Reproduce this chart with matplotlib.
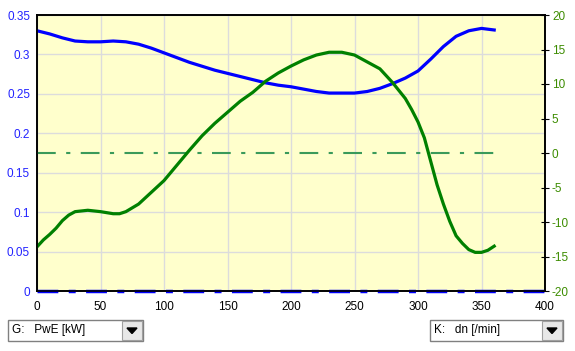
import matplotlib.pyplot as plt
from matplotlib.patches import Rectangle, Polygon

plt.rcParams['font.family'] = ['Liberation Sans', 'DejaVu Sans']
plt.rcParams['axes.unicode_minus'] = False

# blue curve, left axis (PwE)
x_pwe = [0, 10, 20, 30, 40, 50, 60, 70, 80, 90, 100, 110, 120, 130, 140, 150, 160, 170, 180,
         190, 200, 210, 220, 230, 240, 250, 260, 270, 280, 290, 300, 310, 320, 330, 340, 350, 360]
pwe = [0.330, 0.326, 0.321, 0.317, 0.316, 0.316, 0.317, 0.316, 0.313, 0.308, 0.302, 0.296,
       0.290, 0.285, 0.280, 0.276, 0.272, 0.268, 0.264, 0.261, 0.259, 0.256, 0.253, 0.251,
       0.251, 0.251, 0.253, 0.257, 0.263, 0.270, 0.279, 0.294, 0.310, 0.323, 0.330, 0.333, 0.331]

# green curve, right axis (dn)
x_dn = [0, 5, 10, 15, 20, 25, 30, 40, 50, 60, 65, 70, 80, 90, 100, 110, 120, 130, 140, 150,
        160, 170, 180, 190, 200, 210, 220, 230, 240, 250, 260, 270, 280, 290, 295, 300, 305,
        310, 315, 320, 325, 330, 335, 340, 345, 350, 355, 360]
dn = [-13.6, -12.6, -11.8, -10.9, -9.8, -9.0, -8.5, -8.3, -8.5, -8.8, -8.8, -8.5, -7.4, -5.7,
      -4.0, -1.8, 0.4, 2.5, 4.3, 5.9, 7.5, 8.8, 10.4, 11.6, 12.6, 13.5, 14.2, 14.6, 14.6, 14.2,
      13.2, 12.2, 10.2, 7.9, 6.3, 4.5, 2.2, -1.2, -4.6, -7.4, -9.9, -12.0, -13.1, -14.0, -14.4,
      -14.4, -14.1, -13.5]

left_ticks = [0, 0.05, 0.1, 0.15, 0.2, 0.25, 0.3, 0.35]
left_labels = ["0", "0.05", "0.1", "0.15", "0.2", "0.25", "0.3", "0.35"]
right_ticks = [-20, -15, -10, -5, 0, 5, 10, 15, 20]
x_ticks = [0, 50, 100, 150, 200, 250, 300, 350, 400]

blue = "#0000ff"
green = "#008000"

fig = plt.figure(figsize=(5.75, 3.51), dpi=100)
ax = fig.add_axes([37/575, 1 - 291/351, 508/575, 276/351])
ax.set_facecolor("#ffffcc")
ax.set_xlim(0, 400)
ax.set_ylim(0, 0.35)
ax.set_xticks(x_ticks)
ax.set_yticks(left_ticks)
ax.set_yticklabels(left_labels)
ax.grid(True, color="#dcdcdc", lw=1)
ax.set_axisbelow(True)
ax.tick_params(axis="y", length=0, labelsize=8.5, labelcolor="#2222ff", pad=5)
ax.tick_params(axis="x", length=0, labelsize=8.5, pad=7)

ax.plot([0, 400], [0, 0], color=blue, lw=2.5, ls=(0, (6, 3, 2, 3)), clip_on=False, zorder=3)
ax.plot(x_pwe, pwe, color=blue, lw=2.3, zorder=4)

ax2 = ax.twinx()
ax2.set_ylim(-20, 20)
ax2.set_yticks(right_ticks)
ax2.tick_params(axis="y", direction="inout", length=6, labelsize=8.5, labelcolor="#3c8c00", pad=2)
ax2.plot([0, 360], [0, 0], color="#3a9a5a", lw=1.5, ls=(0, (9, 5, 2, 5)))
ax2.plot(x_dn, dn, color=green, lw=2.3)

for a in (ax, ax2):
    for s in a.spines.values():
        s.set_linewidth(1.2)

# dropdown boxes under the chart
def combo(x0, x1, label):
    y0, y1 = 10/351, 31/351
    fig.patches.append(Rectangle((x0/575, y0), (x1 - x0)/575, y1 - y0, transform=fig.transFigure,
                                 facecolor="white", edgecolor="#808080", lw=1))
    bx = x1 - 21
    fig.patches.append(Rectangle((bx/575, y0 + 1/351), 20/575, y1 - y0 - 2/351, transform=fig.transFigure,
                                 facecolor="#e8e8e8", edgecolor="#a0a0a0", lw=0.8))
    cx, cy = bx + 10, 20.5
    fig.patches.append(Polygon([((cx - 5)/575, (cy + 2.5)/351), ((cx + 5)/575, (cy + 2.5)/351),
                                (cx/575, (cy - 3)/351)], transform=fig.transFigure, color="black"))
    fig.text((x0 + 4)/575, 20.5/351, label, fontsize=8.5, va="center", ha="left")

combo(8, 143, "G:   PwE [kW]")
combo(430, 563, "K:   dn [/min]")

fig.savefig("out.png", dpi=100)
